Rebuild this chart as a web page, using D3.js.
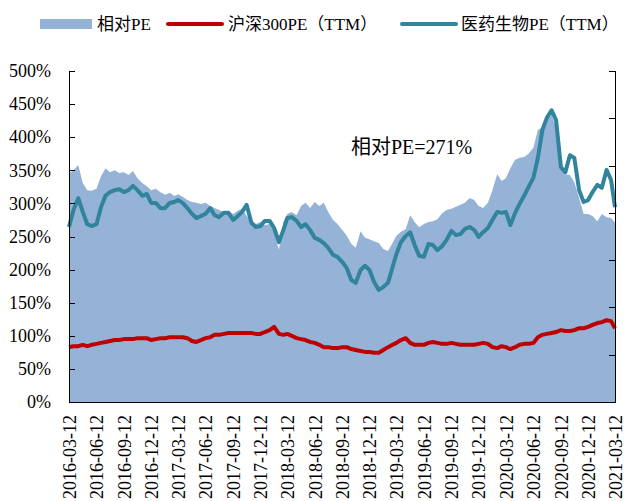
<!DOCTYPE html>
<html lang="zh">
<head>
<meta charset="utf-8">
<title>相对PE</title>
<script src="https://cdn.jsdelivr.net/npm/d3@7"></script>
<style>
  body { margin: 0; background: #fff; }
  svg { display: block; font-family: "Liberation Serif", "Times New Roman", "Noto Sans CJK SC", serif; }
  .axis path, .axis line { stroke: #000; shape-rendering: crispEdges; }
  .axis text { font-size: 18px; fill: #000; font-family: "Liberation Serif", serif; }
</style>
</head>
<body>
<svg id="chart"></svg>
<script>
// half-monthly samples, 2016-03-12 .. 2021-03-12
var startDate = new Date(2016, 2, 12);
var dates = d3.range(121).map(function(i) {
  var m = d3.timeMonth.offset(startDate, Math.floor(i / 2));
  return i % 2 === 0 ? m : new Date(m.getFullYear(), m.getMonth(), 27);
});

// 相对PE (%)
var relPE = [346,350,358,331,320,319,322,341,353,347,
  350,346,347,343,349,338,331,326,320,322,
  317,313,316,311,314,310,305,302,301,299,
  301,296,293,290,287,289,284,289,292,281,
  273,269,272,267,269,257,230,272,284,287,
  282,296,301,293,302,296,301,287,275,269,
  260,251,239,233,258,248,246,243,240,231,
  228,240,251,257,261,282,272,264,269,272,
  273,276,285,290,292,295,298,301,308,305,
  296,293,301,320,344,334,338,353,366,369,
  370,375,384,411,415,427,434,414,358,344,
  343,332,308,284,284,281,273,284,279,278,
  271];

// 医药生物PE（TTM）
var pharmaPE = [37.0,40.6,43.1,40.2,37.6,37.2,37.6,41.2,43.6,44.4,
  44.8,45.0,44.4,44.8,45.7,44.8,43.6,44.0,42.1,42.1,
  41.0,41.0,42.1,42.3,42.7,42.1,41.0,39.8,38.9,39.3,
  39.8,41.0,39.5,39.1,40.0,40.0,38.5,39.3,40.2,41.7,
  37.9,37.0,37.2,38.3,38.3,36.8,33.8,36.4,38.9,39.1,
  38.3,37.0,37.6,36.4,34.7,34.3,33.6,32.6,31.1,30.7,
  29.6,28.3,25.8,25.2,27.9,28.8,27.9,25.4,23.7,24.3,
  25.2,28.5,31.3,33.8,35.1,35.9,33.2,30.9,30.7,33.4,
  33.2,32.1,33.0,34.3,36.2,35.3,35.5,36.6,37.0,36.4,
  34.9,35.9,36.8,38.5,40.2,40.0,40.2,37.4,40.0,41.9,
  43.6,45.5,47.4,51.6,57.5,60.1,61.7,59.6,49.7,48.6,
  52.2,51.6,44.8,42.3,42.7,44.4,45.9,45.3,49.1,46.9,
  41.2];

// 沪深300PE（TTM）
var hs300PE = [11.6,11.8,11.8,12.1,11.8,12.1,12.3,12.5,12.7,12.9,
  13.1,13.1,13.3,13.3,13.3,13.5,13.5,13.5,13.1,13.3,
  13.5,13.5,13.7,13.7,13.7,13.7,13.5,12.9,12.7,13.1,
  13.5,13.7,14.2,14.2,14.4,14.6,14.6,14.6,14.6,14.6,
  14.6,14.4,14.4,14.8,15.2,15.9,14.4,14.2,14.4,14.0,
  13.5,13.3,13.1,12.7,12.5,12.1,11.6,11.6,11.4,11.4,
  11.6,11.6,11.2,11.0,10.8,10.6,10.6,10.4,10.4,11.0,
  11.6,12.1,12.5,13.1,13.5,12.5,12.1,12.1,12.1,12.5,
  12.7,12.5,12.3,12.3,12.5,12.3,12.1,12.1,12.1,12.1,
  12.3,12.5,12.3,11.6,11.4,11.8,11.6,11.2,11.6,12.1,
  12.3,12.3,12.5,13.7,14.2,14.4,14.6,14.8,15.2,15.0,
  15.0,15.2,15.6,15.6,15.9,16.3,16.7,16.9,17.3,17.1,
  15.6];

var xTickLabels = ["2016-03-12","2016-06-12","2016-09-12","2016-12-12","2017-03-12",
  "2017-06-12","2017-09-12","2017-12-12","2018-03-12","2018-06-12","2018-09-12",
  "2018-12-12","2019-03-12","2019-06-12","2019-09-12","2019-12-12","2020-03-12",
  "2020-06-12","2020-09-12","2020-12-12","2021-03-12"];
var leftTicks = [0,50,100,150,200,250,300,350,400,450,500];
var rightTicks = [0,10,20,30,40,50,60,70];

var width = 625, height = 501;
var margin = {top: 71, right: 10, bottom: 99, left: 69};
var w = width - margin.left - margin.right;
var h = height - margin.top - margin.bottom;

var svg = d3.select("#chart").attr("width", width).attr("height", height);
var g = svg.append("g").attr("transform", "translate(" + margin.left + "," + margin.top + ")");

var parse = d3.timeParse("%Y-%m-%d");
var x = d3.scaleTime()
  .domain([parse(xTickLabels[0]), parse(xTickLabels[xTickLabels.length - 1])])
  .range([0, w]);
var yL = d3.scaleLinear().domain([0, 500]).range([h, 0]);
var yR = d3.scaleLinear().domain([0, 70]).range([h, 0]);

var rows = dates.map(function(d, i) {
  return {date: d, rel: relPE[i], pharma: pharmaPE[i], hs: hs300PE[i]};
});

// relative PE area
g.append("path")
  .datum(rows)
  .attr("fill", "#95B3D7")
  .attr("d", d3.area()
    .x(function(d) { return x(d.date); })
    .y0(h)
    .y1(function(d) { return yL(d.rel); }));

var lineHs = d3.line().x(function(d) { return x(d.date); }).y(function(d) { return yR(d.hs); });
var linePh = d3.line().x(function(d) { return x(d.date); }).y(function(d) { return yR(d.pharma); });

g.append("path").datum(rows)
  .attr("fill", "none").attr("stroke", "#C00000").attr("stroke-width", 4)
  .attr("stroke-linejoin", "round").attr("d", lineHs);

g.append("path").datum(rows)
  .attr("fill", "none").attr("stroke", "#31849B").attr("stroke-width", 4)
  .attr("stroke-linejoin", "round").attr("d", linePh);

// left axis, ticks inside
g.append("g").attr("class", "axis")
  .call(d3.axisLeft(yL).tickValues(leftTicks).tickSize(-6).tickPadding(18)
    .tickFormat(function(d) { return d + "%"; }))
  .call(function(s) { s.select(".domain").attr("stroke-width", 1.5); });

// right axis, no labels
g.append("g").attr("class", "axis")
  .attr("transform", "translate(" + w + ",0)")
  .call(d3.axisRight(yR).tickValues(rightTicks).tickSize(-6).tickFormat(""))
  .call(function(s) { s.select(".domain").attr("stroke-width", 1.5); });

// bottom axis
var xAxis = g.append("g").attr("class", "axis")
  .attr("transform", "translate(0," + h + ")")
  .call(d3.axisBottom(x).tickValues(xTickLabels.map(parse)).tickSize(0)
    .tickFormat(d3.timeFormat("%Y-%m-%d")));
xAxis.select(".domain").attr("stroke-width", 1.5);
xAxis.selectAll("text")
  .attr("transform", "rotate(-90)")
  .attr("text-anchor", "end")
  .attr("x", -13)
  .attr("y", 0)
  .attr("dy", "0.35em");

// annotation
svg.append("text")
  .attr("x", 351).attr("y", 154)
  .attr("font-size", 20)
  .attr("fill", "#000")
  .text("相对PE=271%");

// legend
var legendY = 24;
var legend = svg.append("g").attr("font-size", 17);
legend.append("rect").attr("x", 40).attr("y", legendY - 5).attr("width", 52).attr("height", 10).attr("fill", "#95B3D7");
legend.append("text").attr("x", 97).attr("y", legendY).attr("dy", "0.35em").text("相对PE");
legend.append("line").attr("x1", 168).attr("x2", 222).attr("y1", legendY).attr("y2", legendY)
  .attr("stroke", "#C00000").attr("stroke-width", 4).attr("stroke-linecap", "round");
legend.append("text").attr("x", 228).attr("y", legendY).attr("dy", "0.35em").text("沪深300PE（TTM）");
legend.append("line").attr("x1", 402).attr("x2", 456).attr("y1", legendY).attr("y2", legendY)
  .attr("stroke", "#31849B").attr("stroke-width", 4).attr("stroke-linecap", "round");
legend.append("text").attr("x", 461).attr("y", legendY).attr("dy", "0.35em").text("医药生物PE（TTM）");
</script>
</body>
</html>
